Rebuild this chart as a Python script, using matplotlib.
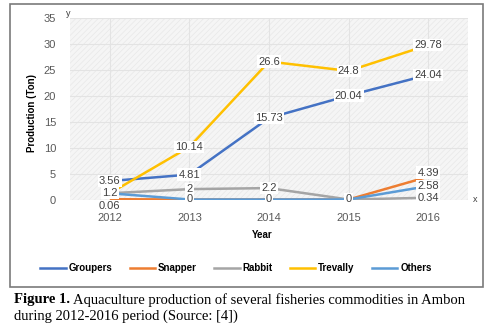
import numpy as np
import matplotlib.pyplot as plt
from matplotlib.patches import Rectangle
from matplotlib.lines import Line2D

years = ['2012', '2013', '2014', '2015', '2016']
groupers = [3.56, 4.81, 15.73, 20.04, 24.04]
snapper = [0.06, 0, 0, 0, 4.39]
rabbit = [1.2, 2, 2.2, 0, 0.34]
trevally = [1.2, 10.14, 26.6, 24.8, 29.78]
others = [1.2, 0, 0, 0, 2.58]

series = [
    ('Groupers', groupers, '#4472C4'),
    ('Snapper', snapper, '#ED7D31'),
    ('Rabbit', rabbit, '#A5A5A5'),
    ('Trevally', trevally, '#FFC000'),
    ('Others', others, '#5B9BD5'),
]

plt.rcParams['font.family'] = ['Liberation Sans', 'DejaVu Sans']

W, H = 493, 335
fig = plt.figure(figsize=(W / 100, H / 100), dpi=100)

def fx(px):
    return px / W

def fy(py):
    return 1 - py / H

# outer frame of the chart
fig.patches.append(Rectangle((fx(10), fy(287)), fx(473), 283 / H, transform=fig.transFigure,
                             fill=False, edgecolor='#7a7a7a', linewidth=1.2))

ax = fig.add_axes([fx(70), fy(199.5), fx(398), fy(18) - fy(199.5)])
ax.set_facecolor('#f5f5f5')
plt.rcParams['hatch.linewidth'] = 0.5
ax.add_patch(Rectangle((0, 0), 1, 1, transform=ax.transAxes, facecolor='none',
                       edgecolor='#e8e8e8', hatch='//////', linewidth=0, zorder=0))
x = np.arange(len(years))
for name, vals, col in series:
    ax.plot(x, vals, color=col, linewidth=1.8, label=name, zorder=3, solid_capstyle='butt')

for name, vals, col in series:
    for i, v in enumerate(vals):
        dy = 0
        if name == 'Snapper' and i == 0:
            dy = -5
        if name == 'Snapper' and i == 4:
            dy = 3
        ax.annotate(f'{v:g}', (x[i], v), xytext=(0, dy), textcoords='offset points',
                    ha='center', va='center', fontsize=8, color='#404040', zorder=5,
                    bbox=dict(boxstyle='square,pad=0.1', facecolor='white', edgecolor='none'),
                    annotation_clip=False)

ax.set_xlim(-0.5, 4.5)
ax.set_ylim(0, 35)
ax.set_yticks(range(0, 36, 5))
ax.set_xticks(x)
ax.set_xticklabels(years)
ax.tick_params(length=0, labelsize=8, labelcolor='#595959')
ax.tick_params(axis='x', pad=10)
ax.tick_params(axis='y', pad=10)
ax.grid(True, color='#e3e3e3', linewidth=0.8)
ax.set_axisbelow(True)
for s in ax.spines.values():
    s.set_visible(False)

fig.text(fx(32), fy(113), 'Production (Ton)', rotation=90, ha='center', va='center',
         fontsize=7, fontweight='bold')
fig.text(fx(262), fy(235), 'Year', ha='center', va='center', fontsize=7, fontweight='bold')
fig.text(fx(68), fy(13), 'y', ha='center', va='center', fontsize=6.5, color='#404040')
fig.text(fx(475), fy(200), 'x', ha='center', va='center', fontsize=6.5, color='#404040')

handles = [Line2D([], [], color=col, linewidth=1.8) for _, _, col in series]
fig.legend(handles, [s[0] for s in series], loc='center', bbox_to_anchor=(fx(236), fy(268)),
           ncol=5, frameon=False, prop={'weight': 'bold', 'size': 7},
           handlelength=2.6, handletextpad=0.3, columnspacing=1.8)

# caption: bold "Figure 1." followed by plain text
cap = fig.text(fx(14), fy(300), 'Figure 1.', ha='left', va='center', fontsize=10.5,
               family='Liberation Serif', fontweight='bold')
renderer = fig.canvas.get_renderer()
bb = cap.get_window_extent(renderer)
fig.text((bb.x1 + 3) / W, fy(300), 'Aquaculture production of several fisheries commodities in Ambon',
         ha='left', va='center', fontsize=10.5, family='Liberation Serif')
fig.text(fx(14), fy(316), 'during 2012-2016 period (Source: [4])', ha='left', va='center',
         fontsize=10.5, family='Liberation Serif')

fig.savefig('out.png', dpi=100)
